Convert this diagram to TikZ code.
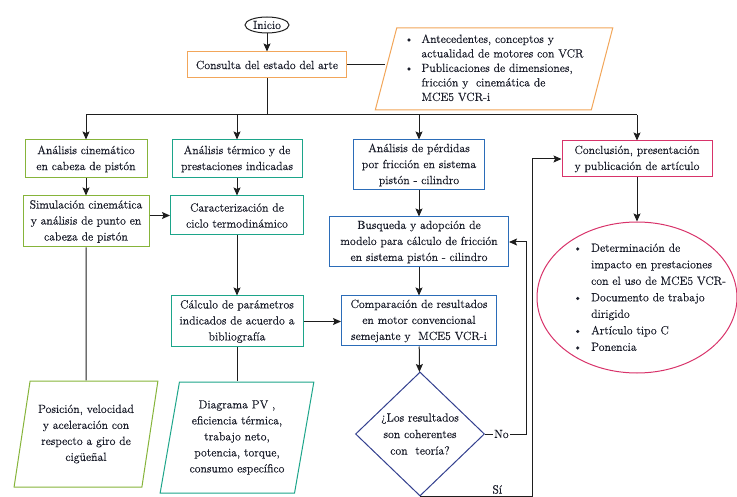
\documentclass[tikz,border=0pt]{standalone}
\usepackage{fontspec}
\setmainfont{Latin Modern Roman}[FakeBold=0.4]
\usepackage{tikz}
\usetikzlibrary{positioning, calc, arrows.meta, shapes.geometric}
\definecolor{artOrangeFg}{HTML}{F2A65A}
\definecolor{artGreenFg}{HTML}{86B43A}
\definecolor{artTealFg}{HTML}{1CA58A}
\definecolor{artBlueFg}{HTML}{2B6CB8}
\definecolor{artNavyFg}{HTML}{33408F}
\definecolor{artPinkFg}{HTML}{D8336A}
\definecolor{artLine}{HTML}{1E1E1E}
\definecolor{artText}{HTML}{1A1D2A}
\newcommand{\boxfont}{\fontsize{11.8}{16}\selectfont}

\begin{document}
\begin{tikzpicture}[x=1pt, y=-1pt,
    proc/.style={draw, rectangle, line width=1pt, fill=white, align=center, inner xsep=2pt, inner ysep=1pt, text=artText, font=\boxfont},
    io/.style={draw, trapezium, trapezium stretches=true, line width=1pt, fill=white, align=center, inner sep=1pt, text=artText, font=\boxfont},
    dec/.style={draw, diamond, aspect=1, inner sep=0pt, line width=1pt, fill=white, align=center, text=artText, font=\fontsize{11.8}{16.5}\selectfont},
    arr/.style={-{Stealth[length=8pt, width=7pt, inset=1.5pt]}, line width=1pt, artLine},
    ln/.style={line width=1pt, artLine},
    lbl/.style={fill=white, inner sep=1.5pt, text=artText, font=\boxfont},
]
\useasboundingbox (0,0) rectangle (737,497);
\clip (0,0) rectangle (737,497);

\node[draw=artLine, ellipse, line width=1pt, inner sep=0pt, minimum width=44pt, minimum height=16pt, text=artText, font=\boxfont] (inicio) at (267,25) {Inicio};
\node[proc, draw=artOrangeFg, minimum width=159pt, minimum height=26pt] (consulta) at (267,65) {Consulta del estado del arte};
\node[io, draw=artOrangeFg, trapezium left angle=75, trapezium right angle=105,
    minimum width=238pt, minimum height=82pt, font=\fontsize{11.8}{14.5}\selectfont] (estado) at (494,69)
    {\begin{tabular}{@{}l@{\hspace{8pt}}l@{}}
    \textbullet & Antecedentes, conceptos y\\
                & actualidad de motores con VCR\\
    \textbullet & Publicaciones de dimensiones,\\
                & fricción y \ cinemática de\\
                & MCE5 VCR-i
    \end{tabular}};

\coordinate (bus) at (267,115);

\node[proc, draw=artGreenFg, minimum width=122pt, minimum height=38pt] (cinem) at (86,159) {Análisis cinemático\\en cabeza de pistón};
\node[proc, draw=artGreenFg, minimum width=126pt, minimum height=51pt] (simul) at (86,221.5) {Simulación cinemática\\y análisis de punto en\\cabeza de pistón};
\node[io, draw=artGreenFg, trapezium left angle=77, trapezium right angle=103,
    minimum width=144pt, minimum height=106pt] (posic) at (86,434) {Posición, velocidad\\y aceleración con\\respecto a giro de\\cigüeñal};

\node[proc, draw=artTealFg, minimum width=130pt, minimum height=38pt] (termico) at (237,159) {Análisis térmico y de\\prestaciones indicadas};
\node[proc, draw=artTealFg, minimum width=133pt, minimum height=39pt] (caract) at (237,215.5) {Caracterización de\\ciclo termodinámico};
\node[proc, draw=artTealFg, minimum width=132pt, minimum height=51pt] (calculo) at (237,321.5) {Cálculo de parámetros\\indicados de acuerdo a\\bibliografía};
\node[io, draw=artTealFg, trapezium left angle=78, trapezium right angle=102,
    minimum width=154pt, minimum height=111pt] (diagpv) at (237,437.5) {Diagrama PV ,\\eficiencia térmica,\\trabajo neto,\\potencia, torque,\\consumo específico};

\node[proc, draw=artBlueFg, minimum width=131pt, minimum height=50pt] (perdidas) at (419,165) {Análisis de pérdidas\\por fricción en sistema\\pistón - cilindro};
\node[proc, draw=artBlueFg, minimum width=179pt, minimum height=50pt] (busq) at (419,242) {Busqueda y adopción de\\modelo para cálculo de fricción\\en sistema pistón - cilindro};
\node[proc, draw=artBlueFg, minimum width=155pt, minimum height=50pt] (compar) at (419,321) {Comparación de resultados\\en motor convencional\\semejante y \ MCE5 VCR-i};
\node[dec, draw=artNavyFg, minimum width=129pt, minimum height=124pt] (decis) at (420,434) {¿Los resultados\\son coherentes\\con \ teoría?};

\node[proc, draw=artPinkFg, minimum width=150pt, minimum height=36pt] (concl) at (637,159) {Conclusión, presentación\\y publicación de artículo};
\node[draw=artPinkFg, ellipse, line width=1pt, minimum width=200pt, minimum height=151pt] (prod) at (637,297.5) {};
\node[anchor=west, inner sep=0pt, text=artText, font=\fontsize{11.8}{16.5}\selectfont] (prodtxt) at (573,298)
    {\begin{tabular}{@{}l@{\hspace{9pt}}l@{}}
    \textbullet & Determinación de\\
                & impacto en prestaciones\\
                & con el uso de MCE5 VCR-\\
    \textbullet & Documento de trabajo\\
                & dirigido\\
    \textbullet & Artículo tipo C\\
    \textbullet & Ponencia
    \end{tabular}};

\coordinate (nox) at (526,0);
\coordinate (six) at (532,0);

\draw[arr] (inicio) -- (consulta);
\draw[ln] (consulta.east) -- (consulta.east -| estado.west);
\draw[ln] (consulta) -- (bus);
\draw[ln] (bus -| cinem) -- (bus -| concl);
\draw[arr] (bus -| cinem) -- (cinem);
\draw[arr] (bus -| termico) -- (termico);
\draw[arr] (bus -| perdidas) -- (perdidas);
\draw[arr] (bus -| concl) -- (concl);

\draw[arr] (cinem) -- (simul);
\draw[arr] (simul.east |- caract) -- (caract);
\draw[ln] (simul) -- (posic);

\draw[arr] (termico) -- (caract);
\draw[arr] (caract) -- (calculo);
\draw[ln] (calculo) -- (diagpv);
\draw[arr] (calculo.east) -- (calculo.east -| compar.west);

\draw[arr] (perdidas) -- (busq);
\draw[arr] (busq) -- (compar);
\draw[arr] (compar) -- (decis);
\draw[arr] (decis.east) -- node[lbl, pos=0.4] {No} (decis.east -| nox) |- (busq.east);
\draw[arr] (decis.south) -- node[lbl, pos=0.69, yshift=7pt, inner ysep=0.5pt] {Sí} (decis.south -| six) |- (concl.west);

\draw[arr] (concl) -- (prod);
\end{tikzpicture}
\end{document}
